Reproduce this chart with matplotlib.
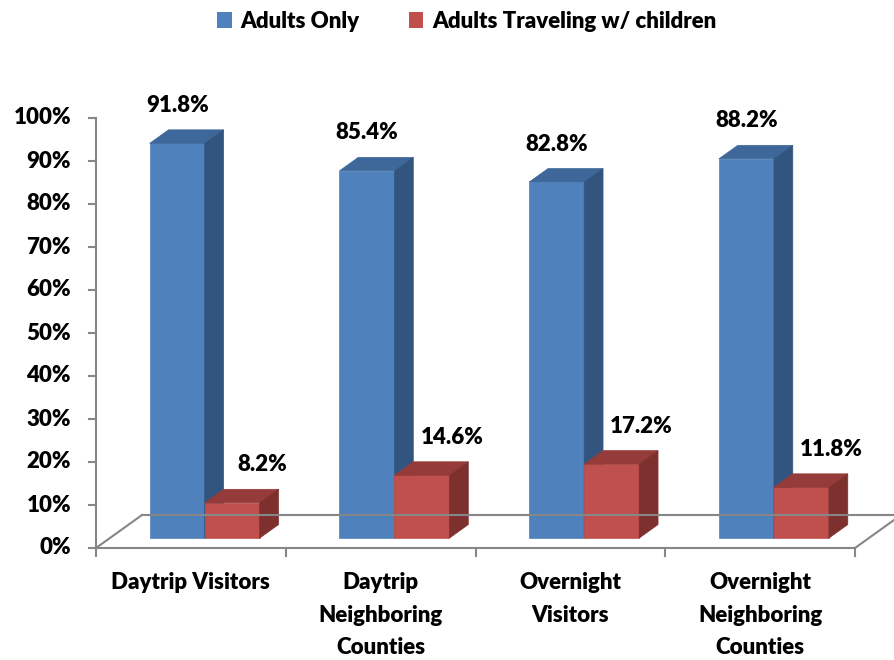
import matplotlib.pyplot as plt
from matplotlib.patches import Polygon, Patch

# Data
categories = ["Daytrip Visitors", "Daytrip\nNeighboring\nCounties",
              "Overnight\nVisitors", "Overnight\nNeighboring\nCounties"]
series_names = ["Adults Only", "Adults Traveling w/ children"]
adults_only = [91.8, 85.4, 82.8, 88.2]
with_children = [8.2, 14.6, 17.2, 11.8]
y_ticks = [0, 10, 20, 30, 40, 50, 60, 70, 80, 90, 100]

# Colours (front, top, side)
BLUE = ("#4F81BD", "#3D6899", "#32557F")
RED = ("#C0504D", "#953B39", "#7D302E")
GRID = "#868686"

plt.rcParams["font.family"] = ["Lato", "DejaVu Sans"]
FS = 16
FW = "heavy"

W, H = 894, 660
fig = plt.figure(figsize=(W / 100, H / 100), dpi=100)
ax = fig.add_axes([0, 0, 1, 1])
ax.axis("off")

# map pixel anchors -> data limits (x: category units, y: percent)
x0_px, x4_px = 96, 855
y0_px, y100_px = 548, 118
xu = (x4_px - x0_px) / 4.0
yu = (y0_px - y100_px) / 100.0
ax.set_xlim(-x0_px / xu, (W - x0_px) / xu)
ax.set_ylim((y0_px - H) / yu, y0_px / yu)

# depth vector of the floor (oblique projection)
DX, DY = 46 / xu, 33 / yu


def P(x, y, d):
    return (x + d * DX, y + d * DY)


n = len(categories)

# floor
ax.plot([0, n], [0, 0], color=GRID, lw=1.5)
ax.plot([0, DX], [0, DY], color=GRID, lw=1.5)
ax.plot([DX, n + 1.4 * DX], [DY, DY], color=GRID, lw=1.5)
ax.plot([n, n + DX * 1.4], [0, DY * 1.4], color=GRID, lw=1.5)

# value axis
ax.plot([0, 0], [0, 100], color=GRID, lw=1.5)
for t in y_ticks:
    ax.plot([-7 / xu, 0], [t, t], color=GRID, lw=1.5)
    ax.text(-25 / xu, t, f"{t}%", ha="right", va="center",
            fontsize=FS, fontweight=FW)

# category ticks + labels
for i in range(n + 1):
    ax.plot([i, i], [0, -8 / yu], color=GRID, lw=1.5)
for i, c in enumerate(categories):
    ax.text(i + 0.5, -24 / yu, c, ha="center", va="top", fontsize=FS,
            fontweight=FW, linespacing=1.68)

# bars
bw = 55 / xu
f0, f1 = 0.3, 0.71


def bar(xl, h, cols):
    xr = xl + bw
    front = [P(xl, 0, f0), P(xr, 0, f0), P(xr, h, f0), P(xl, h, f0)]
    top = [P(xl, h, f0), P(xr, h, f0), P(xr, h, f1), P(xl, h, f1)]
    side = [P(xr, 0, f0), P(xr, 0, f1), P(xr, h, f1), P(xr, h, f0)]
    for poly, c in zip((front, top, side), cols):
        ax.add_patch(Polygon(poly, closed=True, facecolor=c, edgecolor=c, lw=0.5))


for i in range(n):
    cx = i + 0.5
    bar(cx - bw, adults_only[i], BLUE)
    bar(cx, with_children[i], RED)
    bx, _ = P(cx - bw / 2, 0, f0)
    ax.text(bx, adults_only[i] + 38 / yu + f0 * DY, f"{adults_only[i]:.1f}%",
            ha="center", va="center", fontsize=FS, fontweight=FW)
    rx, _ = P(cx + bw / 2 + 30 / xu, 0, f0)
    ax.text(rx, with_children[i] + 38 / yu + f0 * DY, f"{with_children[i]:.1f}%",
            ha="center", va="center", fontsize=FS, fontweight=FW)

# legend
handles = [Patch(facecolor=BLUE[0]), Patch(facecolor=RED[0])]
fig.legend(handles, series_names, loc="center", ncol=2,
           bbox_to_anchor=(0.522, 1 - 21 / H), frameon=False,
           prop={"weight": FW, "size": FS}, handlelength=0.65,
           handleheight=0.7, handletextpad=0.4, columnspacing=2.2)

fig.savefig("out.png", dpi=100)
